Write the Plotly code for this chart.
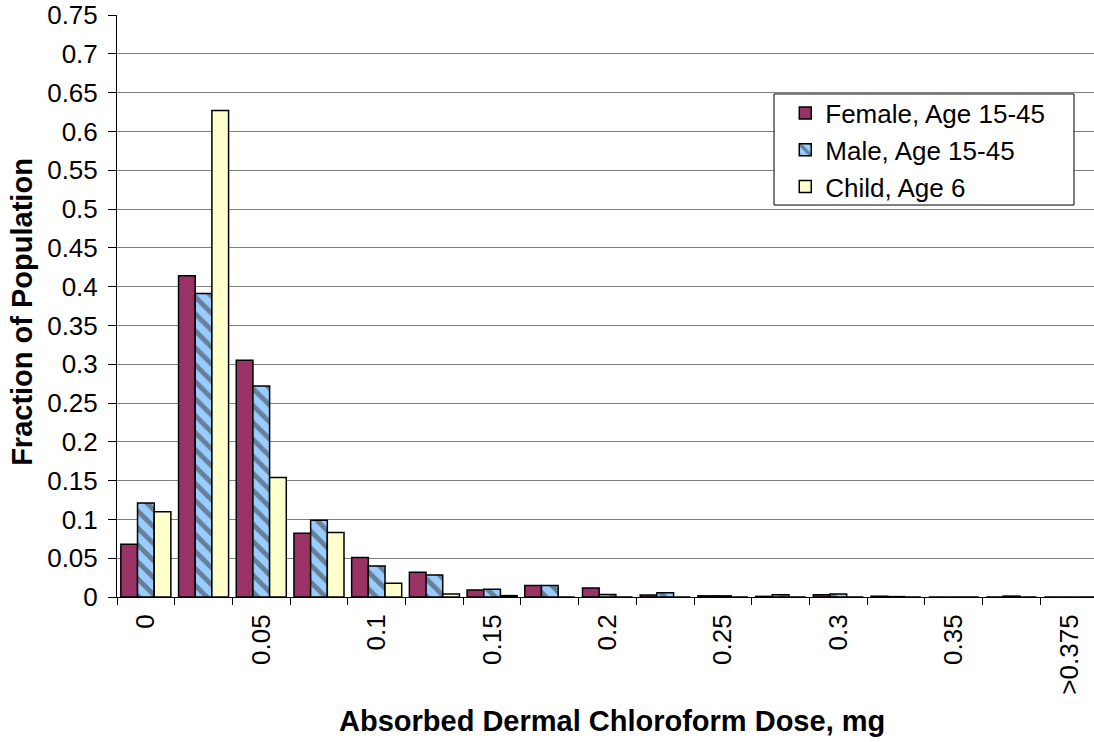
import plotly.graph_objects as go

# Dose bins (lower bound of each 0.025 mg bin, last bin is open-ended)
dose_bins = ["0", "0.025", "0.05", "0.075", "0.1", "0.125", "0.15", "0.175",
             "0.2", "0.225", "0.25", "0.275", "0.3", "0.325", "0.35", "0.375",
             ">0.375"]
tick_labels = ["0", "", "0.05", "", "0.1", "", "0.15", "", "0.2", "", "0.25",
               "", "0.3", "", "0.35", "", ">0.375"]

female_15_45 = [0.068, 0.414, 0.305, 0.082, 0.051, 0.032, 0.009, 0.0147,
                0.0116, 0.0025, 0.0015, 0.0008, 0.003, 0.001, 0.0, 0.0, 0.0]
male_15_45 = [0.121, 0.391, 0.272, 0.099, 0.040, 0.0285, 0.010, 0.0147,
              0.0033, 0.0056, 0.0015, 0.003, 0.004, 0.0005, 0.0, 0.0012, 0.0]
child_6 = [0.110, 0.627, 0.154, 0.083, 0.0177, 0.004, 0.0018, 0.0, 0.0,
           0.0, 0.0, 0.0, 0.0, 0.0, 0.0, 0.0, 0.0]

y_ticks = [round(0.05 * i, 2) for i in range(16)]
y_tick_text = ["0", "0.05", "0.1", "0.15", "0.2", "0.25", "0.3", "0.35", "0.4",
               "0.45", "0.5", "0.55", "0.6", "0.65", "0.7", "0.75"]

font_family = "Liberation Sans, Arial, sans-serif"
outline = dict(color="black", width=1.5)

fig = go.Figure()
fig.add_trace(go.Bar(
    x=dose_bins, y=female_15_45, name="Female, Age 15-45",
    marker=dict(color="#993366", line=outline), legendgroup="f",
))
fig.add_trace(go.Bar(
    x=dose_bins, y=male_15_45, name="Male, Age 15-45",
    marker=dict(color="#99CCFF", line=outline,
                pattern=dict(shape="\\", fgcolor="#333333", bgcolor="#99CCFF",
                             size=12, solidity=0.4)),
    legendgroup="m",
))
fig.add_trace(go.Bar(
    x=dose_bins, y=child_6, name="Child, Age 6",
    marker=dict(color="#FFFFCC", line=outline), legendgroup="c",
))

fig.update_layout(
    width=1094, height=742,
    margin=dict(l=117, r=0, t=15, b=145),
    paper_bgcolor="white", plot_bgcolor="white",
    barmode="group", bargap=0.133, bargroupgap=0,
    font=dict(family=font_family, size=26, color="black"),
    showlegend=True,
    legend=dict(
        x=0.684, y=0.872, xanchor="left", yanchor="top",
        bgcolor="rgba(0,0,0,0)", borderwidth=0,
        font=dict(size=26), traceorder="grouped", tracegroupgap=0,
    ),
    xaxis=dict(
        type="category", categoryorder="array", categoryarray=dose_bins,
        tickmode="array", tickvals=dose_bins, ticktext=tick_labels,
        tickson="boundaries", ticks="outside", ticklen=7, tickcolor="black",
        tickangle=-90, tickfont=dict(size=26), ticklabelstandoff=6,
        showline=True, linecolor="black", linewidth=1,
        showgrid=False, range=[-0.5, 16.43], zeroline=False,
    ),
    yaxis=dict(
        range=[0, 0.75], tickmode="array", tickvals=y_ticks, ticktext=y_tick_text,
        ticks="outside", ticklen=8, tickcolor="black", tickfont=dict(size=26),
        ticklabelstandoff=5,
        showline=True, linecolor="black", linewidth=1,
        showgrid=True, gridcolor="#808080", gridwidth=1, zeroline=False,
    ),
    shapes=[
        # legend frame
        dict(type="rect", xref="paper", yref="paper",
             x0=0.6725, x1=0.9795, y0=0.6735, y1=0.8643,
             fillcolor="white", line=dict(color="black", width=1), layer="above"),
    ],
    annotations=[
        dict(text="<b>Fraction of Population</b>", xref="paper", yref="paper",
             x=-0.0972, y=0.49, xanchor="center", yanchor="middle", textangle=-90,
             showarrow=False, font=dict(size=29)),
        dict(text="<b>Absorbed Dermal Chloroform Dose, mg</b>", xref="paper",
             yref="paper", x=0.507, y=-0.213, xanchor="center", yanchor="middle",
             showarrow=False, font=dict(size=29)),
    ],
)

fig.write_html("out.html")
